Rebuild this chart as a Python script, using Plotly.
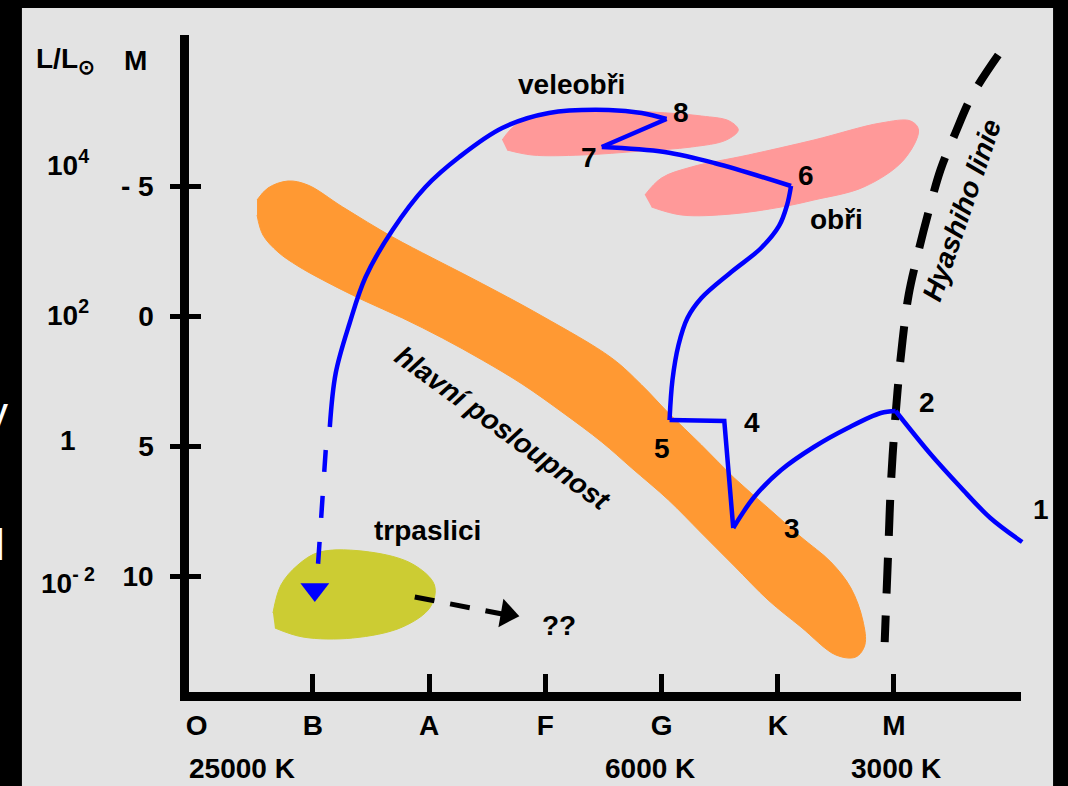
import plotly.graph_objects as go

FONT = "Liberation Sans, Arial, Helvetica, sans-serif"

# ---------------- axis data ----------------
spectral_classes = ["O", "B", "A", "F", "G", "K", "M"]
class_values = [0, 1, 2, 3, 4, 5, 6]
class_tick_values = [1, 2, 3, 4, 5, 6]

magnitude_ticks = [-5, 0, 5, 10]
magnitude_tick_text = ["- 5", "0", "5", "10"]

luminosity_text = ["10<sup>4</sup>", "10<sup>2</sup>", "1", "10<sup>- 2</sup>"]
luminosity_M = [-5.9, -0.1, 4.8, 10.2]
luminosity_x = -1.11

temperature_text = ["25000 K", "6000 K", "3000 K"]
temperature_x = [0.39, 3.90, 6.02]
temperature_M = 17.39

# ---------------- regions (spectral class index, absolute magnitude M) ----------------
main_sequence_x = [0.520, 0.614, 0.786, 0.957, 1.257, 1.686, 2.029, 2.397, 2.971, 3.571, 3.829,
                   4.060, 4.343, 4.626, 4.917, 5.200, 5.457, 5.629, 5.731, 5.749, 5.671, 5.500,
                   5.200, 4.917, 4.626, 4.343, 4.060, 3.743, 3.486, 3.143, 2.800, 2.457, 2.114,
                   1.771, 1.429, 1.086, 0.871, 0.700, 0.571, 0.520]
main_sequence_M = [-4.462, -4.923, -5.192, -5.038, -4.192, -3.038, -2.231, -1.385, 0.000, 1.615, 2.654,
                   3.731, 4.962, 6.231, 7.385, 8.500, 9.462, 10.462, 11.692, 12.654, 13.115, 13.038,
                   11.962, 10.923, 9.615, 8.346, 7.077, 5.846, 4.846, 3.692, 2.615, 1.692, 0.846,
                   0.077, -0.615, -1.385, -1.923, -2.462, -3.115, -3.885]

supergiants_x = [2.629, 2.757, 3.057, 3.486, 3.914, 4.343, 4.583, 4.660, 4.557, 4.257, 3.829,
                 3.314, 2.886, 2.671]
supergiants_M = [-6.769, -7.385, -7.769, -7.923, -7.846, -7.692, -7.500, -7.154, -6.769, -6.500,
                 -6.346, -6.192, -6.192, -6.385]

giants_x = [3.857, 4.000, 4.257, 4.746, 5.311, 5.886, 6.143, 6.211, 6.083, 5.740, 5.311, 5.029,
            4.600, 4.171, 3.914]
giants_M = [-4.654, -5.308, -5.731, -6.192, -6.769, -7.423, -7.500, -7.154, -6.000, -4.962,
            -4.462, -4.192, -3.923, -3.885, -4.192]

dwarfs_x = [0.657, 0.726, 0.871, 1.060, 1.489, 1.857, 2.046, 2.011, 1.771, 1.343, 0.914, 0.674]
dwarfs_M = [11.423, 10.346, 9.577, 9.077, 9.077, 9.538, 10.346, 11.192, 11.962, 12.385, 12.346, 12.000]

# ---------------- Hayashi line ----------------
hayashi_x = [6.897, 6.674, 6.528, 6.400, 6.297, 6.203, 6.126, 6.074, 6.031, 5.997, 5.971, 5.954,
             5.937, 5.920]
hayashi_M = [-10.04, -8.50, -7.04, -5.62, -4.00, -2.35, -0.81, 0.92, 2.85, 4.77, 6.69, 8.62,
             10.54, 12.54]

# ---------------- evolutionary track (segments between numbered stages) ----------------
track_1_2_x = [7.103, 6.829, 6.571, 6.314, 6.014]
track_1_2_M = [8.692, 7.769, 6.577, 5.308, 3.654]
track_2_3_x = [6.014, 5.886, 5.603, 5.311, 5.029, 4.797, 4.617]
track_2_3_M = [3.654, 3.731, 4.308, 5.038, 5.923, 6.962, 8.154]
track_3_5_x = [4.617, 4.540, 4.069]
track_3_5_M = [8.154, 4.038, 4.000]
track_5_6_x = [4.069, 4.094, 4.146, 4.223, 4.343, 4.600, 4.857, 5.011, 5.080, 5.114]
track_5_6_M = [4.000, 2.462, 1.115, 0.077, -0.692, -1.692, -2.615, -3.462, -4.269, -5.000]
track_6_7_x = [5.114, 4.454, 4.026, 3.486]
track_6_7_M = [-5.000, -5.885, -6.308, -6.500]
track_7_8_x = [3.486, 4.043]
track_7_8_M = [-6.500, -7.577]
track_8_wd_x = [4.043, 3.829, 3.546, 3.031, 2.629, 2.260, 1.969, 1.686, 1.454, 1.317, 1.197, 1.146]
track_8_wd_M = [-7.577, -7.808, -7.923, -7.808, -7.231, -6.115, -4.962, -3.308, -1.500, 0.269,
                2.192, 4.269]
track_wd_dashed_x = [1.111, 1.034]
track_wd_dashed_M = [5.154, 10.269]
track_arrow_x = [1.017]
track_arrow_M = [10.52]

future_x = [1.877, 2.629]
future_M = [10.808, 11.462]
future_arrow_x = [2.671]
future_arrow_M = [11.462]

# ---------------- labels ----------------
stage_labels = ["1", "2", "3", "4", "5", "6", "7", "8"]
stage_label_x = [7.266, 6.280, 5.123, 4.780, 4.000, 5.243, 3.374, 4.171]
stage_label_M = [7.423, 3.308, 8.154, 4.077, 5.077, -5.423, -6.115, -7.846]

region_labels = ["veleobři", "obři", "trpaslici", "??"]
region_label_x = [3.229, 5.509, 1.986, 3.117]
region_label_M = [-8.885, -3.731, 8.269, 11.885]

BLUE = "#0000ff"
ORANGE = "#ff9933"
PINK = "#ff9999"
YELLOW = "#cccc33"
GRAY = "#e3e3e3"

fig = go.Figure()


def add_region(xs, ys, color):
    fig.add_trace(go.Scatter(x=xs, y=ys, mode="lines", fill="toself", fillcolor=color,
                             line=dict(color=color, width=1, shape="spline", smoothing=1.0),
                             hoverinfo="skip", showlegend=False))


add_region(main_sequence_x, main_sequence_M, ORANGE)
add_region(supergiants_x, supergiants_M, PINK)
add_region(giants_x, giants_M, PINK)
add_region(dwarfs_x, dwarfs_M, YELLOW)

fig.add_trace(go.Scatter(x=hayashi_x, y=hayashi_M, mode="lines",
                         line=dict(color="black", width=8, dash="36px,22px", shape="spline"),
                         hoverinfo="skip", showlegend=False))

segments = [
    (track_1_2_x, track_1_2_M, "spline"),
    (track_2_3_x, track_2_3_M, "spline"),
    (track_3_5_x, track_3_5_M, "linear"),
    (track_5_6_x, track_5_6_M, "spline"),
    (track_6_7_x, track_6_7_M, "spline"),
    (track_7_8_x, track_7_8_M, "linear"),
    (track_8_wd_x, track_8_wd_M, "spline"),
]
for xs, ys, shp in segments:
    fig.add_trace(go.Scatter(x=xs, y=ys, mode="lines",
                             line=dict(color=BLUE, width=4.5, shape=shp),
                             hoverinfo="skip", showlegend=False))

fig.add_trace(go.Scatter(x=track_wd_dashed_x, y=track_wd_dashed_M, mode="lines",
                         line=dict(color=BLUE, width=4.5, dash="22px,24px"),
                         hoverinfo="skip", showlegend=False))
fig.add_trace(go.Scatter(x=track_arrow_x, y=track_arrow_M, mode="markers",
                         marker=dict(symbol="triangle-down", size=25, color=BLUE),
                         hoverinfo="skip", showlegend=False))

fig.add_trace(go.Scatter(x=future_x, y=future_M, mode="lines",
                         line=dict(color="black", width=5, dash="20px,16px"),
                         hoverinfo="skip", showlegend=False))
fig.add_trace(go.Scatter(x=future_arrow_x, y=future_arrow_M, mode="markers",
                         marker=dict(symbol="triangle-right", size=25, color="black", angle=10),
                         hoverinfo="skip", showlegend=False))

# empty traces so the axis-frame subplots exist
fig.add_trace(go.Scatter(x=[], y=[], xaxis="x2", yaxis="y2", showlegend=False))
fig.add_trace(go.Scatter(x=[], y=[], xaxis="x3", yaxis="y2", showlegend=False))
fig.add_trace(go.Scatter(x=[], y=[], xaxis="x2", yaxis="y3", showlegend=False))

bold = dict(family=FONT, size=28, color="black", weight="bold")

annotations = []
for t, x, y in zip(stage_labels, stage_label_x, stage_label_M):
    annotations.append(dict(x=x, y=y, xref="x", yref="y", text=t, showarrow=False, font=bold))
for t, x, y in zip(region_labels, region_label_x, region_label_M):
    annotations.append(dict(x=x, y=y, xref="x", yref="y", text=t, showarrow=False, font=bold))
for t, y in zip(luminosity_text, luminosity_M):
    annotations.append(dict(x=luminosity_x, y=y, xref="x", yref="y", text=t, showarrow=False, font=bold))
for t, x in zip(temperature_text, temperature_x):
    annotations.append(dict(x=x, y=temperature_M, xref="x", yref="y", text=t, showarrow=False, font=bold))

annotations.append(dict(x=-1.125, y=-9.81, xref="x", yref="y", text="L/L<sub>⊙</sub>",
                        showarrow=False, font=bold, yanchor="top", yshift=20))
annotations.append(dict(x=-0.526, y=-9.81, xref="x", yref="y", text="M", showarrow=False, font=bold))
annotations.append(dict(x=2.637, y=4.31, xref="x", yref="y", text="hlavní posloupnost",
                        showarrow=False, textangle=36,
                        font=dict(family=FONT, size=28, color="black", weight="bold", style="italic")))
annotations.append(dict(x=6.588, y=-4.08, xref="x", yref="y", text="Hyashiho linie",
                        showarrow=False, textangle=-71,
                        font=dict(family=FONT, size=28, color="black", weight="bold", style="italic")))
# clipped fragments of white text at the left edge
annotations.append(dict(x=6 / 1068, y=1 - 412 / 786, xref="paper", yref="paper", text="y",
                        showarrow=False, xanchor="right",
                        font=dict(family=FONT, size=44, color="white")))
annotations.append(dict(x=3 / 1068, y=1 - 544 / 786, xref="paper", yref="paper", text="l",
                        showarrow=False, xanchor="right", yanchor="middle",
                        font=dict(family=FONT, size=44, color="white")))

frame_x_domain = [186 / 1068, 1021 / 1068]
frame_y_domain = [(786 - 692) / 786, (786 - 35) / 786]
frame_x_range = [-0.0628, 7.0943]
frame_y_range = [14.4615, -10.8077]

fig.update_layout(
    width=1068, height=786,
    margin=dict(l=0, r=0, t=0, b=0, pad=0),
    paper_bgcolor="black",
    plot_bgcolor="rgba(0,0,0,0)",
    showlegend=False,
    xaxis=dict(domain=[0, 1], range=[-1.657, 7.497], visible=False, fixedrange=True),
    yaxis=dict(domain=[0, 1], range=[18.077, -12.154], visible=False, fixedrange=True),
    xaxis2=dict(domain=frame_x_domain, range=frame_x_range, anchor="y2",
                showline=True, linewidth=9, linecolor="black",
                ticks="inside", ticklen=18, tickwidth=5, tickcolor="black",
                tickvals=class_tick_values, showticklabels=False,
                showgrid=False, zeroline=False, fixedrange=True),
    xaxis3=dict(domain=frame_x_domain, range=frame_x_range, anchor="y2", overlaying="x2",
                showline=False, ticks="", tickvals=class_values, ticktext=spectral_classes,
                tickfont=bold, ticklabelstandoff=14,
                showgrid=False, zeroline=False, fixedrange=True),
    yaxis2=dict(domain=frame_y_domain, range=frame_y_range, anchor="x2",
                showline=True, linewidth=9, linecolor="black",
                ticks="outside", ticklen=10, tickwidth=5, tickcolor="black",
                tickvals=magnitude_ticks, ticktext=magnitude_tick_text, tickfont=bold,
                ticklabelstandoff=11,
                showgrid=False, zeroline=False, fixedrange=True),
    yaxis3=dict(domain=frame_y_domain, range=frame_y_range, anchor="x2", overlaying="y2",
                showline=False, ticks="inside", ticklen=12, tickwidth=5, tickcolor="black",
                tickvals=magnitude_ticks, showticklabels=False,
                showgrid=False, zeroline=False, fixedrange=True),
    annotations=annotations,
    shapes=[dict(type="rect", xref="paper", yref="paper", x0=18 / 1068, x1=1053 / 1068,
                 y0=-0.01, y1=(786 - 8) / 786, fillcolor=GRAY, line=dict(width=0), layer="below")],
)

fig.write_html("out.html", config={"displayModeBar": False, "staticPlot": True},
               post_script="document.body.style.margin='0px';document.body.style.overflow='hidden';")
